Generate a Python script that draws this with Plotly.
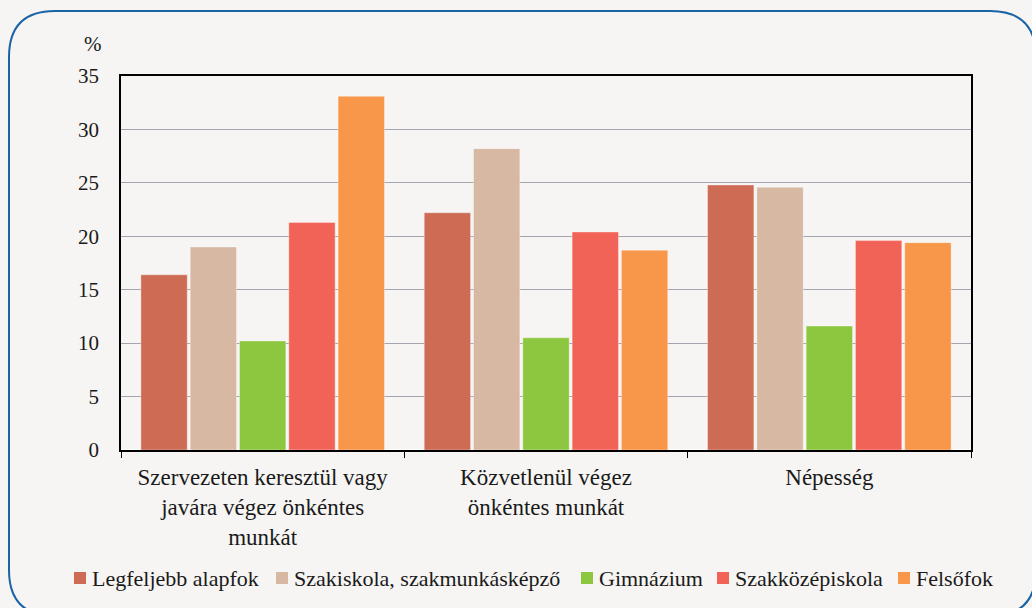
import plotly.graph_objects as go

categories = ["Szervezeten keresztül vagy<br>javára végez önkéntes<br>munkát",
              "Közvetlenül végez<br>önkéntes munkát",
              "Népesség"]
series_names = ["Legfeljebb alapfok", "Szakiskola, szakmunkásképző", "Gimnázium",
                "Szakközépiskola", "Felsőfok"]
legfeljebb = [16.4, 22.2, 24.8]
szakiskola = [19.0, 28.2, 24.6]
gimnazium = [10.2, 10.5, 11.6]
szakkozep = [21.3, 20.4, 19.6]
felsofok = [33.1, 18.7, 19.4]
series_values = [legfeljebb, szakiskola, gimnazium, szakkozep, felsofok]
colors = ["#cd6b55", "#d7b8a3", "#8dc63f", "#f26357", "#f8964a"]
y_ticks = [0, 5, 10, 15, 20, 25, 30, 35]

# layout constants (pixels)
W, H = 1032, 608
L, R, T, B = 121, 61, 76, 158
pw, ph = W - L - R, H - T - B
legend_square_x = [74, 276, 581, 717, 898]
legend_y = 578

def px(x):
    return (x - L) / pw

def py(y):
    return (H - B - y) / ph

fig = go.Figure()
for name, vals, col in zip(series_names, series_values, colors):
    fig.add_trace(go.Bar(x=categories, y=vals, name=name, showlegend=False,
                         marker=dict(color=col, line=dict(color="rgba(255,255,255,0.35)", width=1))))

font = "'Liberation Serif', 'DejaVu Serif', serif"
fig.update_layout(
    width=W, height=H,
    margin=dict(l=L, r=R, t=T, b=B, autoexpand=False),
    paper_bgcolor="#f6f5f3", plot_bgcolor="#f6f5f3",
    barmode="group", bargap=0.13, bargroupgap=0.06,
    font=dict(family=font, size=21, color="#1a1a1a"),
    showlegend=False,
    xaxis=dict(showline=True, linecolor="black", linewidth=1.5, mirror=True,
               ticks="outside", tickson="boundaries", ticklen=6, tickcolor="black",
               tickfont=dict(size=23), ticklabelstandoff=6, showgrid=False),
    yaxis=dict(range=[0, 35], tickvals=y_ticks, showline=True, linecolor="black",
               linewidth=1.5, mirror=True, ticks="", showgrid=True,
               gridcolor="#a3a6ae", gridwidth=1, tickfont=dict(size=21), ticklabelstandoff=16),
)

fig.add_annotation(text="%", xref="paper", yref="paper", x=px(93), y=py(44),
                   showarrow=False, font=dict(size=21), xanchor="center", yanchor="middle")

# legend drawn as squares + text
for sx, name, col in zip(legend_square_x, series_names, colors):
    fig.add_shape(type="rect", xref="paper", yref="paper",
                  x0=px(sx), x1=px(sx + 12), y0=py(legend_y + 6), y1=py(legend_y - 6),
                  fillcolor=col, line=dict(width=0))
    fig.add_annotation(text=name, xref="paper", yref="paper", x=px(sx + 16), y=py(legend_y),
                       showarrow=False, xanchor="left", yanchor="middle",
                       font=dict(size=22), xshift=0)

# rounded border
x0, x1, y0, y1, r = 9, 1036, 11, 616, 46
path = (f"M {px(x0+r)},{py(y0)} L {px(x1-r)},{py(y0)} Q {px(x1)},{py(y0)} {px(x1)},{py(y0+r)} "
        f"L {px(x1)},{py(y1-r)} Q {px(x1)},{py(y1)} {px(x1-r)},{py(y1)} "
        f"L {px(x0+r)},{py(y1)} Q {px(x0)},{py(y1)} {px(x0)},{py(y1-r)} "
        f"L {px(x0)},{py(y0+r)} Q {px(x0)},{py(y0)} {px(x0+r)},{py(y0)} Z")
fig.add_shape(type="path", path=path, xref="paper", yref="paper",
              line=dict(color="#1a63a5", width=2), layer="above")

fig.write_html("out.html", config={"displayModeBar": False},
               post_script="document.body.style.margin='0';document.body.style.overflow='hidden';")
